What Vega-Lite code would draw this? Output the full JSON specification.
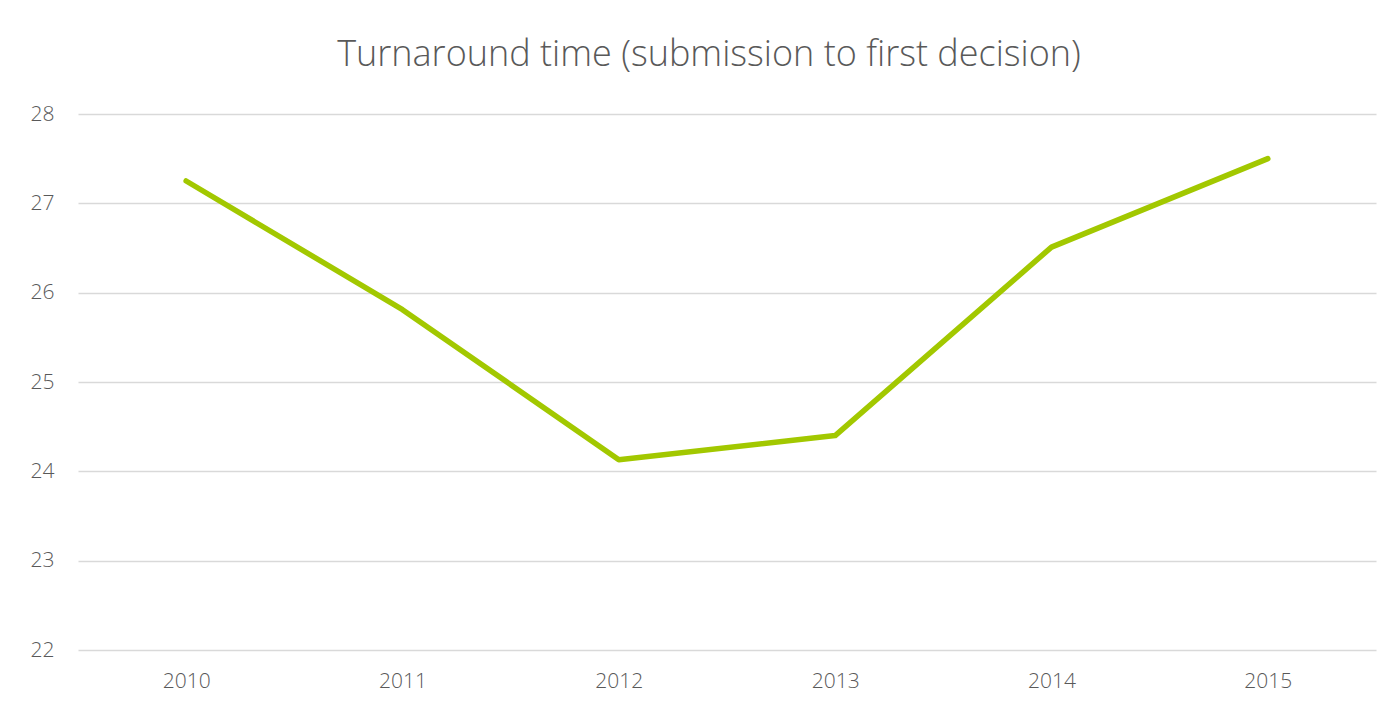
{
  "$schema": "https://vega.github.io/schema/vega-lite/v6.json",
  "width": 1298,
  "height": 536,
  "autosize": {"type": "none"},
  "padding": {"left": 78, "top": 114, "right": 23, "bottom": 59},
  "background": "white",
  "title": {
    "text": "Turnaround time (submission to first decision)",
    "font": "Open Sans",
    "fontSize": 36,
    "fontWeight": 300,
    "color": "#595959",
    "anchor": "middle",
    "dx": -18,
    "offset": 29
  },
  "data": {
    "values": [
      {"year": "2010", "days": 27.25},
      {"year": "2011", "days": 25.81},
      {"year": "2012", "days": 24.13},
      {"year": "2013", "days": 24.4},
      {"year": "2014", "days": 26.51},
      {"year": "2015", "days": 27.5}
    ]
  },
  "mark": {"type": "line", "color": "#A2C800", "strokeWidth": 5.5, "strokeCap": "round", "strokeJoin": "round"},
  "encoding": {
    "x": {
      "field": "year",
      "type": "ordinal",
      "scale": {"type": "point", "padding": 0.5},
      "axis": {
        "title": null,
        "labelAngle": 0,
        "ticks": false,
        "domain": false,
        "grid": false,
        "labelFont": "Open Sans",
        "labelFontWeight": 300,
        "labelFontSize": 21,
        "labelColor": "#595959",
        "labelPadding": 20
      }
    },
    "y": {
      "field": "days",
      "type": "quantitative",
      "scale": {"domain": [22, 28], "nice": false, "zero": false},
      "axis": {
        "title": null,
        "values": [22, 23, 24, 25, 26, 27, 28],
        "ticks": false,
        "domain": false,
        "grid": true,
        "gridColor": "#D9D9D9",
        "gridWidth": 1.5,
        "labelFont": "Open Sans",
        "labelFontWeight": 300,
        "labelFontSize": 21,
        "labelColor": "#595959",
        "labelPadding": 24
      }
    }
  },
  "config": {"view": {"stroke": null}}
}
